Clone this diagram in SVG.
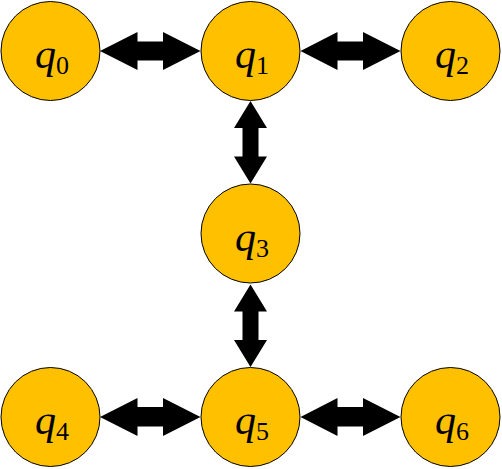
<svg xmlns="http://www.w3.org/2000/svg" width="502" height="469" viewBox="0 0 502 469">
<style>
.st{fill:#FFC000;stroke:#000;stroke-width:1}
.ar{fill:#000;stroke:none}
text{font-family:"Liberation Serif","Times New Roman",serif;font-size:42px;fill:#000;text-anchor:middle}
.q{font-style:italic}
.sub{font-size:26px}
</style>
<rect width="502" height="469" fill="#fff"/>
<g id="connectors">
<polygon class="ar" points="100,51 137.5,32 137.5,41.5 163,41.5 163,32 200.5,51 163,70 163,60.5 137.5,60.5 137.5,70"/>
<polygon class="ar" points="300.5,51 337.5,32 337.5,41.5 363,41.5 363,32 400.5,51 363,70 363,60.5 337.5,60.5 337.5,70"/>
<polygon class="ar" points="250.5,101 267,128 258.5,128 258.5,156.5 267,156.5 250.5,183.5 234,156.5 242.5,156.5 242.5,128 234,128"/>
<polygon class="ar" points="250.5,284.5 267,311.5 258.5,311.5 258.5,340 267,340 250.5,367 234,340 242.5,340 242.5,311.5 234,311.5"/>
<polygon class="ar" points="100,417 137.5,398 137.5,407 163,407 163,398 200.5,417 163,436 163,426.5 137.5,426.5 137.5,436"/>
<polygon class="ar" points="300.5,417 337.5,398 337.5,407 363,407 363,398 400.5,417 363,436 363,426.5 337.5,426.5 337.5,436"/>
</g>
<g id="q0"><circle class="st" cx="50.5" cy="51" r="49.5"/><text x="52" y="68"><tspan class="q">q</tspan><tspan class="sub" dy="6">0</tspan></text></g>
<g id="q1"><circle class="st" cx="250.5" cy="51" r="49.5"/><text x="252" y="68"><tspan class="q">q</tspan><tspan class="sub" dy="6">1</tspan></text></g>
<g id="q2"><circle class="st" cx="450.5" cy="51" r="49.5"/><text x="452" y="68"><tspan class="q">q</tspan><tspan class="sub" dy="6">2</tspan></text></g>
<g id="q3"><circle class="st" cx="250.5" cy="233.5" r="49.5"/><text x="252" y="250.5"><tspan class="q">q</tspan><tspan class="sub" dy="6">3</tspan></text></g>
<g id="q4"><circle class="st" cx="50.5" cy="417" r="49.5"/><text x="52" y="434"><tspan class="q">q</tspan><tspan class="sub" dy="6">4</tspan></text></g>
<g id="q5"><circle class="st" cx="250.5" cy="417" r="49.5"/><text x="252" y="434"><tspan class="q">q</tspan><tspan class="sub" dy="6">5</tspan></text></g>
<g id="q6"><circle class="st" cx="450.5" cy="417" r="49.5"/><text x="452" y="434"><tspan class="q">q</tspan><tspan class="sub" dy="6">6</tspan></text></g>
</svg>
